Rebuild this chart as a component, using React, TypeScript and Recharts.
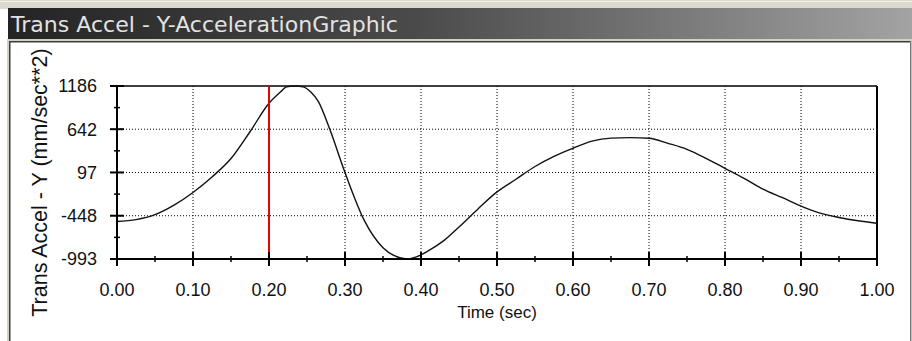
import React from 'react';
import { LineChart, Line, XAxis, YAxis, CartesianGrid, ReferenceLine } from 'recharts';

const titleText = 'Trans Accel - Y-AccelerationGraphic';
const xAxisTitle = 'Time (sec)';
const yAxisTitle = 'Trans Accel - Y (mm/sec**2)';

const timeValues = [0, 0.025, 0.05, 0.075, 0.1, 0.125, 0.15, 0.175, 0.2, 0.215, 0.223, 0.234, 0.245, 0.255, 0.265, 0.28, 0.3, 0.325, 0.35, 0.365, 0.381, 0.395, 0.41, 0.43, 0.45, 0.475, 0.5, 0.525, 0.55, 0.575, 0.6, 0.625, 0.65, 0.675, 0.7, 0.725, 0.75, 0.775, 0.8, 0.825, 0.85, 0.875, 0.9, 0.925, 0.95, 0.975, 1.0];
const accelValues = [-520, -497, -435, -315, -155, 40, 272, 610, 968, 1110, 1175, 1186, 1175, 1110, 990, 640, 95, -500, -850, -952, -993, -962, -888, -762, -590, -362, -148, 12, 172, 300, 402, 492, 530, 536, 528, 464, 389, 275, 149, 23, -112, -218, -326, -415, -470, -512, -543];

const xMajorTicks = [0, 0.1, 0.2, 0.3, 0.4, 0.5, 0.6, 0.7, 0.8, 0.9, 1.0];
const xMinorTicks = [0.05, 0.15, 0.25, 0.35, 0.45, 0.55, 0.65, 0.75, 0.85, 0.95];
const yMajorTicks = [-993, -448, 97, 642, 1186];
const yMinorTicks = [-720.5, -175.5, 369.5, 914];
const xGridValues = [0.1, 0.2, 0.3, 0.4, 0.5, 0.6, 0.7, 0.8, 0.9];
const yGridValues = [-448, 97, 642];
const cursorTime = 0.2;

const data = timeValues.map((t, i) => ({ t, v: accelValues[i] }));
const xTicks = [...xMajorTicks, ...xMinorTicks].sort((a, b) => a - b);
const yTicks = [...yMajorTicks, ...yMinorTicks].sort((a, b) => a - b);

const FONT = '"Liberation Sans", Arial, sans-serif';

const XTick = (props: any) => {
  const { x, y, payload } = props;
  const v = payload.value as number;
  const major = xMajorTicks.some((m) => Math.abs(m - v) < 1e-9);
  const len = major ? 7 : 3;
  return (
    <g>
      <line x1={x} x2={x} y1={y - len} y2={y + len} stroke="#000" strokeWidth={major ? 2 : 1.5} />
      {major && (
        <text x={x} y={y + 37} textAnchor="middle" fontSize={18} fontFamily={FONT} fill="#111">
          {v.toFixed(2)}
        </text>
      )}
    </g>
  );
};

const YTick = (props: any) => {
  const { x, y, payload } = props;
  const v = payload.value as number;
  const major = yMajorTicks.some((m) => Math.abs(m - v) < 1e-9);
  const len = major ? 7 : 3;
  return (
    <g>
      <line x1={x - len} x2={x + len} y1={y} y2={y} stroke="#000" strokeWidth={major ? 2 : 1.5} />
      {major && (
        <text x={x - 20} y={y} dy="0.36em" textAnchor="end" fontSize={18} fontFamily={FONT} fill="#111">
          {String(v)}
        </text>
      )}
    </g>
  );
};

const YTitle = (props: any) => {
  const vb = props.viewBox || {};
  const cx = (vb.x || 0) + 47;
  const cy = (vb.y || 0) + (vb.height || 0) / 2 + 10;
  return (
    <text x={cx} y={cy} transform={`rotate(-90, ${cx}, ${cy})`} textAnchor="middle" fontSize={21.5} fontFamily={FONT} fill="#111">
      {yAxisTitle}
    </text>
  );
};

const XTitle = (props: any) => {
  const vb = props.viewBox || {};
  const cx = (vb.x || 0) + (vb.width || 0) / 2;
  const cy = (vb.y || 0) + 59;
  return (
    <text x={cx} y={cy} textAnchor="middle" fontSize={17} fontFamily={FONT} fill="#111">
      {xAxisTitle}
    </text>
  );
};

export default function App() {
  return (
    <div style={{ position: 'absolute', left: 0, top: 0, width: 912, height: 341, background: '#fff', overflow: 'hidden' }}>
      <svg width={912} height={341} style={{ position: 'absolute', left: 0, top: 0 }}>
        <defs>
          <linearGradient id="tb" x1="0" y1="0" x2="1" y2="0">
            <stop offset="0" stopColor="#242424" />
            <stop offset="0.45" stopColor="#4a4a4a" />
            <stop offset="1" stopColor="#a3a3a3" />
          </linearGradient>
        </defs>
        <rect x={0} y={0} width={912} height={9} fill="#dcd9cf" />
        <rect x={0} y={1} width={912} height={1} fill="#f2f1ec" />
        <rect x={8} y={8} width={904} height={31} fill="url(#tb)" />
        <rect x={7} y={39} width={905} height={2} fill="#d4d0c8" />
        <rect x={7} y={39} width={2} height={302} fill="#d4d0c8" />
        <rect x={9} y={41} width={902} height={1.5} fill="#3c3c3c" />
        <rect x={9} y={41} width={1.5} height={300} fill="#3c3c3c" />
        <rect x={910} y={41} width={1.5} height={300} fill="#7a7a7a" />
        <text x={11} y={32} fontSize={21} fontFamily='"DejaVu Sans", Verdana, sans-serif' fill="#e2e2e2" textLength={387} lengthAdjust="spacingAndGlyphs">
          {titleText}
        </text>
      </svg>
      <div style={{ position: 'absolute', left: 0, top: 0 }}>
        <LineChart width={912} height={341} data={data} margin={{ top: 86, right: 35, bottom: 0, left: 0 }}>
          <CartesianGrid
            verticalValues={xGridValues}
            horizontalValues={yGridValues}
            stroke="#000"
            strokeDasharray="1 2"
            strokeWidth={1}
          />
          <XAxis
            dataKey="t"
            type="number"
            domain={[0, 1]}
            ticks={xTicks}
            interval={0}
            height={82}
            tickSize={0}
            tickMargin={0}
            tickLine={false}
            axisLine={{ stroke: '#000', strokeWidth: 2 }}
            tick={<XTick />}
            label={{ content: (p: any) => <XTitle {...p} /> }}
          />
          <YAxis
            type="number"
            domain={[-993, 1186]}
            ticks={yTicks}
            interval={0}
            width={117}
            tickSize={0}
            tickMargin={0}
            tickLine={false}
            axisLine={{ stroke: '#000', strokeWidth: 2 }}
            tick={<YTick />}
            label={{ content: (p: any) => <YTitle {...p} /> }}
          />
          <ReferenceLine y={1186} stroke="#000" strokeWidth={1.5} />
          <ReferenceLine x={1} stroke="#000" strokeWidth={2} />
          <Line
            type="monotone"
            dataKey="v"
            stroke="#111"
            strokeWidth={1.4}
            dot={false}
            isAnimationActive={false}
          />
          <ReferenceLine x={cursorTime} stroke="#ee0000" strokeWidth={2} />
        </LineChart>
      </div>
    </div>
  );
}
